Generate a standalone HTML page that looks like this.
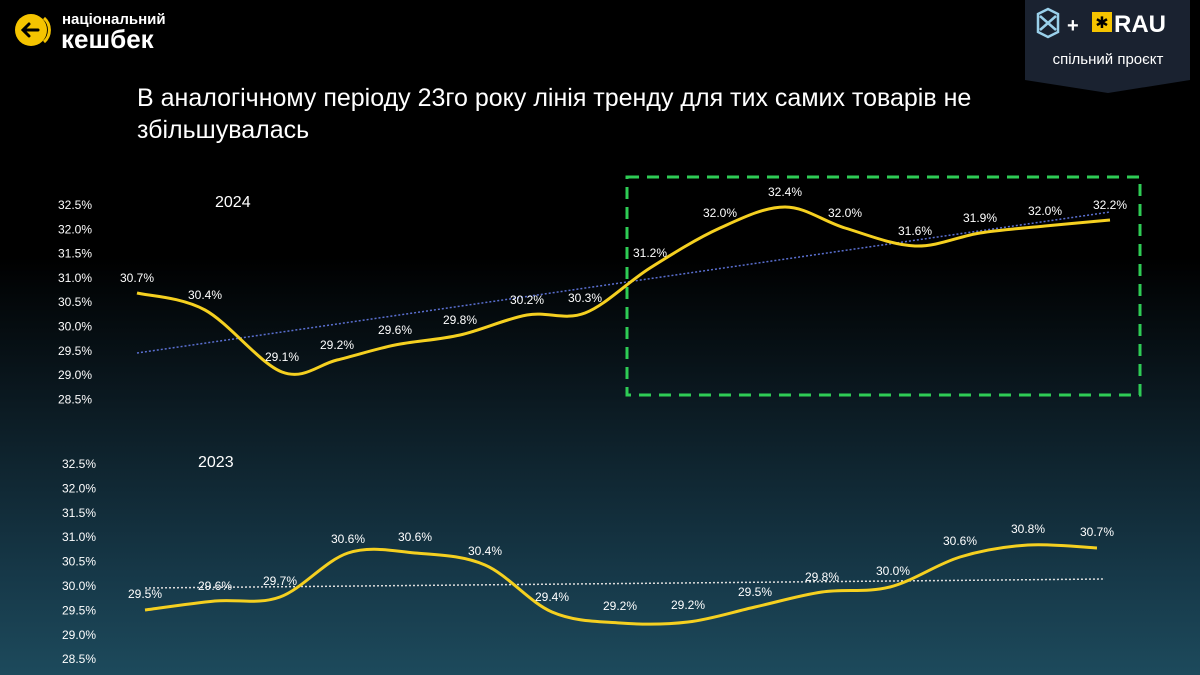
<!DOCTYPE html>
<html><head><meta charset="utf-8"><style>
html,body{margin:0;padding:0}
body{width:1200px;height:675px;overflow:hidden;background:linear-gradient(180deg,#000 0%,#000 38%,#0b1a22 60%,#163848 85%,#1d4a5c 100%);font-family:"Liberation Sans",sans-serif;position:relative}
svg{position:absolute;left:0;top:0}
</style></head><body>
<svg width="1200" height="675" xmlns="http://www.w3.org/2000/svg" font-family="Liberation Sans, sans-serif">
<circle cx="31" cy="30" r="16" fill="#f5c400"/>
<path d="M44 18 a16 16 0 0 1 0 24" stroke="#f5c400" stroke-width="3" fill="none"/>
<path d="M38 30 H24 M29 24 L23 30 L29 36" stroke="#000" stroke-width="3" fill="none" stroke-linecap="round"/>
<text x="62" y="24" fill="#fff" font-size="15" font-weight="bold">національний</text>
<text x="61" y="48" fill="#fff" font-size="26" font-weight="bold">кешбек</text>
<path d="M1025 0 H1190 V80 L1108 93 L1025 80 Z" fill="#1a2230"/>
<path d="M1038 14 l10 -5 l10 5 v18 l-10 5 l-10 -5 Z M1040 16 L1056 30 M1040 30 L1056 16" stroke="#9ad0ea" stroke-width="2.5" fill="none"/>
<text x="1067" y="32" fill="#fff" font-size="20" font-weight="bold">+</text>
<rect x="1092" y="12" width="20" height="20" fill="#f5c400"/>
<text x="1102" y="28" fill="#000" font-size="16" text-anchor="middle">✱</text>
<text x="1114" y="32" fill="#fff" font-size="24" font-weight="bold">RAU</text>
<text x="1108" y="64" fill="#fff" font-size="15" text-anchor="middle">спільний проєкт</text>
<text x="137" y="106" fill="#fff" font-size="25">В аналогічному періоду 23го року лінія тренду для тих самих товарів не</text>
<text x="137" y="138" fill="#fff" font-size="25">збільшувалась</text>
<text x="215" y="207" fill="#fff" font-size="16">2024</text>
<text x="198" y="467" fill="#fff" font-size="16">2023</text>
<g id="ax" fill="#fff" font-size="12" text-anchor="end"></g>
<rect x="627" y="177" width="513" height="218" fill="none" stroke="#2ecc55" stroke-width="3" stroke-dasharray="12,8"/>
<line x1="137" y1="353" x2="1110" y2="212" stroke="#5a6fd0" stroke-width="1.5" stroke-dasharray="2,2"/>
<line x1="145" y1="588" x2="1105" y2="579" stroke="#ddd" stroke-width="1.5" stroke-dasharray="2,2"/>
<path id="c1" fill="none" stroke="#f5d020" stroke-width="3"/>
<path id="c2" fill="none" stroke="#f5d020" stroke-width="3"/>
<g id="lb" fill="#fff" font-size="12" text-anchor="middle"></g>
</svg>
<script>
var ax=document.getElementById('ax'),s='';
var v=['32.5%','32.0%','31.5%','31.0%','30.5%','30.0%','29.5%','29.0%','28.5%'];
for(var i=0;i<9;i++){s+='<text x="92" y="'+(209+i*24.3)+'">'+v[i]+'</text>';s+='<text x="96" y="'+(468+i*24.4)+'">'+v[i]+'</text>';}
ax.innerHTML=s;
var p1=[[137,293,'30.7%'],[205,310,'30.4%'],[282,372,'29.1%'],[337,360,'29.2%'],[395,345,'29.6%'],[460,335,'29.8%'],[527,315,'30.2%'],[585,313,'30.3%'],[650,268,'31.2%'],[720,228,'32.0%'],[785,207,'32.4%'],[845,228,'32.0%'],[915,246,'31.6%'],[980,233,'31.9%'],[1045,226,'32.0%'],[1110,220,'32.2%']];
var p2=[[145,610,'29.5%'],[215,601,'29.6%'],[280,597,'29.7%'],[348,553,'30.6%'],[415,553,'30.6%'],[485,565,'30.4%'],[552,612,'29.4%'],[620,623,'29.2%'],[688,622,'29.2%'],[755,607,'29.5%'],[822,592,'29.8%'],[890,587,'30.0%'],[960,557,'30.6%'],[1028,545,'30.8%'],[1097,548,'30.7%']];
function cr(p){var d='M'+p[0][0]+' '+p[0][1];for(var i=0;i<p.length-1;i++){var a=p[i-1]||p[i],b=p[i],c=p[i+1],e=p[i+2]||c;d+=' C'+(b[0]+(c[0]-a[0])/6)+' '+(b[1]+(c[1]-a[1])/6)+' '+(c[0]-(e[0]-b[0])/6)+' '+(c[1]-(e[1]-b[1])/6)+' '+c[0]+' '+c[1];}return d;}
document.getElementById('c1').setAttribute('d',cr(p1));
document.getElementById('c2').setAttribute('d',cr(p2));
var l='';
p1.forEach(function(p,i){var dy=-11;l+='<text x="'+p[0]+'" y="'+(p[1]+dy)+'">'+p[2]+'</text>';});
[[145,598],[215,590],[280,585],[348,543],[415,541],[485,555],[552,601],[620,610],[688,609],[755,596],[822,581],[893,575],[960,545],[1028,533],[1097,536]].forEach(function(q,i){l+='<text x="'+q[0]+'" y="'+q[1]+'">'+p2[i][2]+'</text>';});
document.getElementById('lb').innerHTML=l;
</script>
</body></html>
